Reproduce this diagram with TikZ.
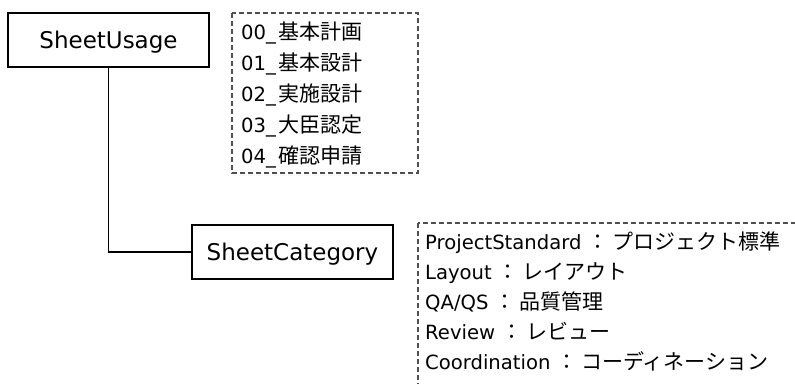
\documentclass[tikz,border=0pt]{standalone}
\usepackage{fontspec}
\setmainfont{DejaVu Sans}
\newfontfamily\jpfont{Noto Sans CJK JP}
\newcommand{\jpt}[1]{{\jpfont\fontsize{21}{21}\selectfont #1}}
\newcommand{\latt}[1]{{\fontsize{19.6}{19.6}\selectfont #1}}
\newcommand{\jcolon}{\kern6pt\jpt{：}\kern4pt}
\newcommand{\usc}{\latt{\_}\kern3pt}
\definecolor{dashgray}{HTML}{505050}
\tikzset{
  mainbox/.style={draw=black, line width=1.6pt, minimum width=201pt, minimum height=54pt,
    inner sep=0pt, text height=16.8pt, text depth=0pt, font=\fontsize{23}{23}\selectfont},
  listbox/.style={draw=dashgray, line width=1.1pt, dash pattern=on 5pt off 3pt},
  listline/.style={anchor=base west, inner sep=0pt},
  conn/.style={draw=black, line width=1.6pt}
}
\begin{document}
\begin{tikzpicture}[x=1pt,y=-1pt]
\useasboundingbox (0,0) rectangle (795,383);
\clip (0,0) rectangle (795,383);
% main boxes
\node[mainbox] (us) at (108.5,40) {SheetUsage};
\node[mainbox] (sc) at (292.5,252) {SheetCategory};
\draw[conn] (us.south) |- (sc.west);
% dashed list boxes
\coordinate (l1a) at (232,13);
\coordinate (l1b) at (418,173);
\draw[listbox] (l1a) rectangle (l1b);
\coordinate (l2a) at (418,223);
\coordinate (l2b) at (810,400);
\draw[listbox] (l2a) rectangle (l2b);
% list 1
\node[listline] (u0) at (241,39.8)  {\latt{00}\usc\jpt{基本計画}};
\node[listline] (u1) at (241,70.6)  {\latt{01}\usc\jpt{基本設計}};
\node[listline] (u2) at (241,101.4) {\latt{02}\usc\jpt{実施設計}};
\node[listline] (u3) at (241,132.2) {\latt{03}\usc\jpt{大臣認定}};
\node[listline] (u4) at (241,163.0) {\latt{04}\usc\jpt{確認申請}};
% list 2
\node[listline] (c0) at (425,249.3) {\latt{ProjectStandard}\jcolon\jpt{プロジェクト標準}};
\node[listline] (c1) at (425,279.3) {\latt{Layout}\jcolon\jpt{レイアウト}};
\node[listline] (c2) at (425,309.3) {\latt{QA/QS}\jcolon\jpt{品質管理}};
\node[listline] (c3) at (425,339.3) {\latt{Review}\jcolon\jpt{レビュー}};
\node[listline] (c4) at (425,369.3) {\latt{Coordination}\jcolon\jpt{コーディネーション}};
\end{tikzpicture}
\end{document}
